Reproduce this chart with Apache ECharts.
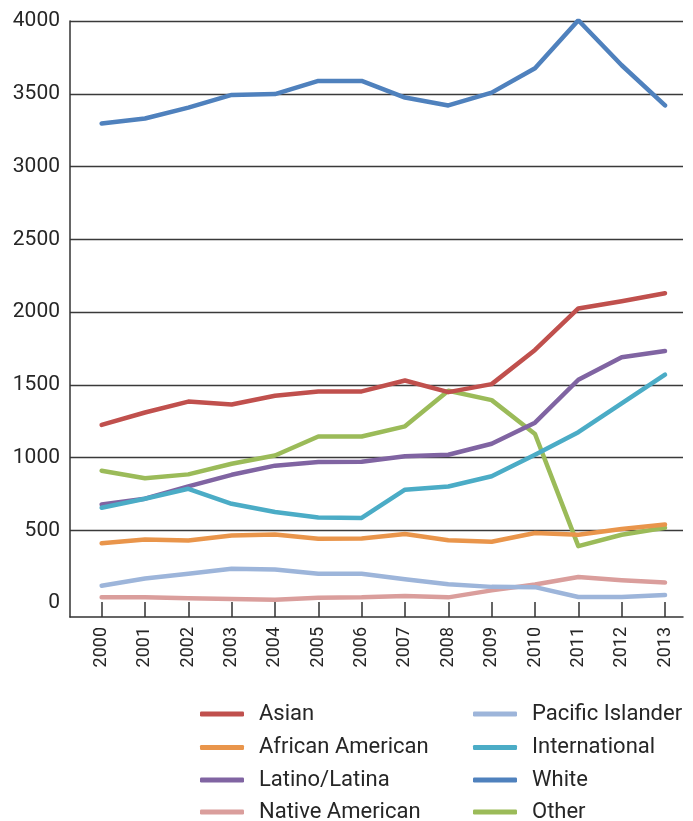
<!DOCTYPE html>
<html>
<head>
<meta charset="utf-8">
<script src="https://cdn.jsdelivr.net/npm/echarts@6/dist/echarts.min.js"></script>
<style>html,body{margin:0;padding:0;background:#fff}#c{width:693px;height:821px}</style>
</head>
<body>
<div id="c"></div>
<script>
var years = [2000,2001,2002,2003,2004,2005,2006,2007,2008,2009,2010,2011,2012,2013];
var yTickLabels = [0,500,1000,1500,2000,2500,3000,3500,4000];
var gridValues = [500,1000,1500,2000,2500,3000,3500,4000];

var asian = [1225,1310,1385,1365,1425,1455,1455,1530,1450,1505,1740,2025,2075,2130];
var africanAmerican = [412,438,430,465,472,443,445,475,432,422,482,470,510,540];
var latino = [678,718,802,882,945,970,972,1010,1020,1095,1240,1535,1690,1732];
var nativeAmerican = [40,40,34,28,24,38,40,50,40,88,128,180,158,142];
var pacificIslander = [120,170,202,236,232,202,202,165,130,112,110,42,42,56];
var international = [656,718,786,683,626,588,586,780,802,872,1020,1175,1372,1570];
var white = [3295,3330,3405,3492,3498,3588,3588,3474,3420,3508,3675,4005,3696,3420];
var other = [910,858,885,958,1015,1145,1145,1215,1460,1395,1162,392,470,518];

var names = ['Asian','African American','Latino/Latina','Native American','Pacific Islander','International','White','Other'];
var colors = {
  'Asian':'#C0504D','African American':'#E9954B','Latino/Latina':'#8064A2','Native American':'#DA9E9C',
  'Pacific Islander':'#9DB5DA','International':'#4BACC6','White':'#4F81BD','Other':'#9BBB59'
};
var values = {
  'Asian':asian,'African American':africanAmerican,'Latino/Latina':latino,'Native American':nativeAmerican,
  'Pacific Islander':pacificIslander,'International':international,'White':white,'Other':other
};
var drawOrder = ['Other','Asian','Latino/Latina','African American','Native American','Pacific Islander','International','White'];

function pairs(arr){ return arr.map(function(v,i){ return [years[i], v]; }); }

var font = 'Roboto, "Noto Sans", sans-serif';
var textColor = '#262626';

var legendRowTops = [703, 736.5, 769, 801];
var legendColLefts = [200, 473];
var legends = names.map(function(n, i){
  return {
    orient:'horizontal', left:legendColLefts[Math.floor(i/4)], top:legendRowTops[i%4], padding:0,
    itemWidth:44, itemHeight:5, icon:'roundRect', data:[n], selectedMode:false,
    textStyle:{fontFamily:font, fontSize:22, color:textColor, lineHeight:22, padding:[0,0,0,10]}
  };
});

var chart = echarts.init(document.getElementById('c'), null, {renderer:'canvas'});
chart.setOption({
  animation:false,
  backgroundColor:'#fff',
  grid:{left:70, right:10, top:21, bottom:204, containLabel:false},
  legend:legends,
  xAxis:{
    type:'value', min:1999.27, max:2013.415,
    axisLine:{show:true, onZero:false, lineStyle:{color:'#333', width:1.5}},
    axisTick:{show:true, inside:true, length:15, customValues:years, lineStyle:{color:'#333', width:1.5}},
    axisLabel:{customValues:years, rotate:90, margin:10, fontFamily:font, fontSize:18, color:textColor,
      formatter:function(v){ return String(Math.round(v)); }},
    splitLine:{show:false}
  },
  yAxis:{
    type:'value', min:-95, max:4000,
    axisLine:{show:true, onZero:false, lineStyle:{color:'#333', width:1.5}},
    axisTick:{show:false, customValues:gridValues},
    axisLabel:{customValues:yTickLabels, margin:10, fontFamily:font, fontSize:21, color:textColor,
      formatter:function(v){ return String(Math.round(v)); }},
    splitLine:{show:true, lineStyle:{color:'#3a3a3a', width:1.3}}
  },
  series: drawOrder.map(function(n){
    return {
      name:n, type:'line', data:pairs(values[n]), symbol:'none', showSymbol:false,
      lineStyle:{color:colors[n], width:4.5, cap:'round', join:'round'},
      itemStyle:{color:colors[n]}
    };
  })
});
</script>
</body>
</html>
